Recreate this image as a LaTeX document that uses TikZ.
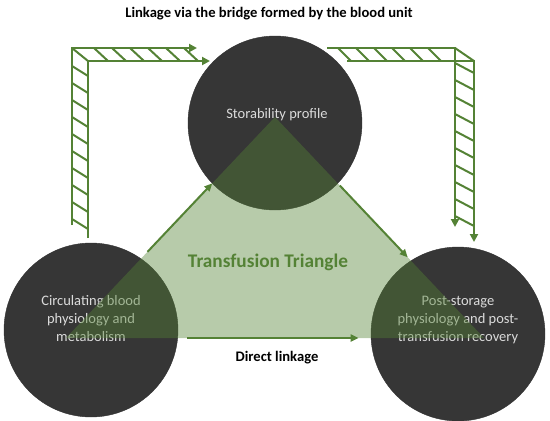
\documentclass[tikz,border=0pt]{standalone}
\usepackage{fontspec}
\setmainfont{Carlito}
\usetikzlibrary{arrows.meta,calc}
\definecolor{leafgreen}{HTML}{548235}
\definecolor{unitgrey}{HTML}{363636}

\begin{document}
\begin{tikzpicture}
  [x=1pt,y=-1pt,
   unit/.style={circle,draw=black!80,fill=unitgrey,minimum size=174pt,inner sep=0pt},
   unittext/.style={text=white!86!black,align=center,font=\fontsize{14.5}{18}\selectfont},
   link/.style={draw=leafgreen,line width=2pt,-{Triangle[length=8pt,width=7pt]}},
   band/.style={draw=leafgreen,line width=2pt},
   heading/.style={font=\bfseries\fontsize{14.6}{17}\selectfont}]
  \useasboundingbox (0,0) rectangle (550,421);

  \node[unit] (storage) at (275,123) {};
  \node[unit] (blood) at (91,330) {};
  \node[unit] (recovery) at (458,334) {};

  \node[unittext] (storagetext) at (277,115) {Storability profile};
  \node[unittext] (bloodtext) at (91,319) {Circulating blood\\physiology and\\metabolism};
  \node[unittext] (recoverytext) at (458,320) {Post-storage\\physiology and post-\\transfusion recovery};

  % the triangle lies over the three units
  \coordinate (tl) at (66,338);
  \coordinate (tt) at (275,117);
  \coordinate (tr) at (484,338);
  \fill[leafgreen,fill opacity=.42] (tl) -- (tt) -- (tr) -- cycle;

  \foreach \from/\to/\a/\b in {tl/tt/.39/.70,tt/tr/.31/.635,tl/tr/.29/.70}
    \draw[link] ($(\from)!\a!(\to)$) -- ($(\from)!\b!(\to)$);

  \node[font=\bfseries\fontsize{19.3}{22}\selectfont,text=leafgreen] (name) at (268,262) {Transfusion Triangle};
  \node[heading] (direct) at (277,358) {Direct linkage};
  \node[heading] (title) at (269,14) {Linkage via the bridge formed by the blood unit};

  % hatched bridge, left side
  \draw[band,-{Triangle[length=8pt,width=8pt]}] (72,225) |- (197,48);
  \draw[band,-{Triangle[length=8pt,width=8pt]}] (88,238) |- (210,61);
  \draw[band] (72,48) -- (88,61);
  \foreach \x in {94,112,...,184}
    \draw[band] (\x,48) -- ++(14,13);
  \foreach \y in {66,83,...,219}
    \draw[band] (72,\y) -- ++(16,10);

  % hatched bridge, right side
  \draw[band,-{Triangle[length=8pt,width=8pt]}] (327,48) -| (455,227);
  \draw[band,-{Triangle[length=8pt,width=8pt]}] (347,61) -| (474,242);
  \draw[band] (455,48) -- (474,61);
  \foreach \x in {338,356,...,428}
    \draw[band] (\x,48) -- ++(13,13);
  \foreach \y in {63,80,...,216}
    \draw[band] (455,\y) -- ++(19,10);
\end{tikzpicture}
\end{document}
